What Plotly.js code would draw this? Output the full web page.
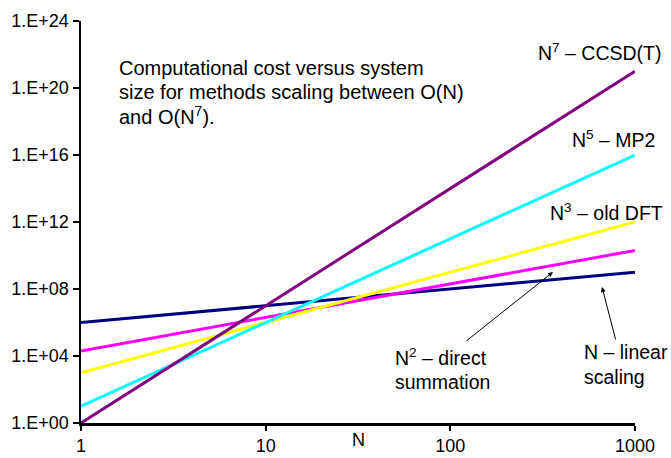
<!DOCTYPE html>
<html>
<head>
<meta charset="utf-8">
<script src="https://cdn.plot.ly/plotly-3.0.1.min.js"></script>
<style>html,body{margin:0;padding:0;background:#fff;}#chart{width:671px;height:458px;}</style>
</head>
<body>
<div id="chart"></div>
<script>
// Data
var systemSize = [1, 10, 100, 1000];
var costN1 = [1e6, 1e7, 1e8, 1e9];
var costN2 = [2e4, 2e6, 2e8, 2e10];
var costN3 = [1e3, 1e6, 1e9, 1e12];
var costN5 = [1e1, 1e6, 1e11, 1e16];
var costN7 = [1e0, 1e7, 1e14, 1e21];

var xTickVals = [1, 10, 100, 1000];
var xTickText = ['1', '10', '100', '1000'];
var yTickVals = [1e0, 1e4, 1e8, 1e12, 1e16, 1e20, 1e24];
var yTickText = ['1.E+00', '1.E+04', '1.E+08', '1.E+12', '1.E+16', '1.E+20', '1.E+24'];

var seriesNames = ['N', 'N2', 'N3', 'N5', 'N7'];
var seriesData = [costN1, costN2, costN3, costN5, costN7];
var seriesColors = ['#000080', '#FF00FF', '#FFFF00', '#00FFFF', '#800080'];

var traces = seriesData.map(function (ys, i) {
  return {
    x: systemSize, y: ys, name: seriesNames[i], type: 'scatter', mode: 'lines',
    line: {color: seriesColors[i], width: 3}, hoverinfo: 'skip'
  };
});

var F = 'Liberation Sans, Arial, sans-serif';
var PL = 81, PT = 21, PW = 554, PH = 402;
function px(x) { return (x - PL) / PW; }
function py(y) { return (PT + PH - y) / PH; }
function label(text, x, y, anchor, size) {
  return {xref: 'paper', yref: 'paper', x: px(x), y: py(y), xanchor: anchor, yanchor: 'middle',
          text: text, showarrow: false, font: {family: F, size: size, color: '#000'}};
}

var layout = {
  width: 671, height: 458,
  margin: {l: PL, r: 671 - PL - PW, t: PT, b: 458 - PT - PH, pad: 0},
  paper_bgcolor: '#fff', plot_bgcolor: '#fff',
  showlegend: false,
  xaxis: {
    type: 'log', range: [0, 3], tickvals: xTickVals, ticktext: xTickText,
    showgrid: false, zeroline: false, showline: true, linecolor: '#000', linewidth: 2.5,
    ticks: 'outside', ticklen: 5, tickwidth: 2, tickcolor: '#000',
    tickfont: {family: F, size: 18, color: '#000'}
  },
  yaxis: {
    type: 'log', range: [0, 24], tickvals: yTickVals, ticktext: yTickText,
    showgrid: false, zeroline: false, showline: true, linecolor: '#000', linewidth: 2.5,
    ticks: 'outside', ticklen: 6, tickwidth: 2, tickcolor: '#000',
    tickfont: {family: F, size: 18, color: '#000'}
  },
  annotations: [
    label('N', 358, 440, 'center', 18),
    label('Computational cost versus system', 117, 68, 'left', 20),
    label('size for methods scaling between O(N)', 117, 92, 'left', 20),
    label('and O(N<sup>7</sup>).', 117, 115, 'left', 20),
    label('N<sup>7</sup> – CCSD(T)', 664, 52, 'right', 19.5),
    label('N<sup>5</sup> – MP2', 657, 139, 'right', 19.5),
    label('N<sup>3</sup> – old DFT', 665, 212, 'right', 19.5),
    label('N<sup>2</sup> – direct', 393, 357, 'left', 19.5),
    label('summation', 393, 382, 'left', 19.5),
    label('N – linear', 582, 352, 'left', 19.5),
    label('scaling', 582, 377, 'left', 19.5),
    {xref: 'paper', yref: 'paper', x: px(553), y: py(272), text: '', showarrow: true,
     ax: -88, ay: 70, arrowhead: 2, arrowsize: 1, arrowwidth: 1, arrowcolor: '#000'},
    {xref: 'paper', yref: 'paper', x: px(602), y: py(287), text: '', showarrow: true,
     ax: 14, ay: 54, arrowhead: 2, arrowsize: 1, arrowwidth: 1, arrowcolor: '#000'}
  ]
};

Plotly.newPlot('chart', traces, layout, {displayModeBar: false, staticPlot: true});
</script>
</body>
</html>
